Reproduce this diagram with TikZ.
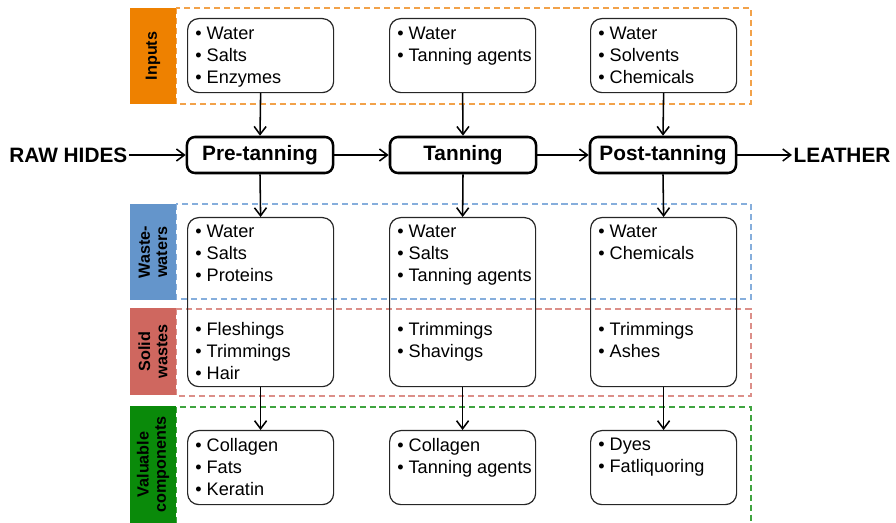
\documentclass[tikz,border=0pt]{standalone}
\usepackage{fontspec}
\setmainfont{Liberation Sans}
\usetikzlibrary{arrows.meta,positioning}
\definecolor{inorange}{HTML}{EE8100}
\definecolor{inorangeL}{HTML}{F2A24A}
\definecolor{wwblue}{HTML}{6495CB}
\definecolor{wwblueL}{HTML}{86AEDC}
\definecolor{swred}{HTML}{CF675F}
\definecolor{swredL}{HTML}{DC8F89}
\definecolor{vcgreen}{HTML}{0A8A0A}
\definecolor{vcgreenL}{HTML}{3FA43F}

\begin{document}
\begin{tikzpicture}[x=0.025cm, y=-0.025cm,
  listbox/.style={rectangle, rounded corners=0.28cm, draw=black!85, line width=0.85pt,
                  minimum width=3.65cm, inner sep=0pt, anchor=north west},
  items/.style={anchor=north west, inner sep=0pt, align=left,
                font=\fontsize{12.9}{15.65}\selectfont},
  stage/.style={rectangle, rounded corners=0.2cm, draw, line width=1.8pt,
                minimum width=3.65cm, minimum height=0.9cm,
                font=\fontsize{14.8}{16}\selectfont\bfseries},
  ends/.style={inner sep=1pt, font=\fontsize{14.8}{16}\selectfont\bfseries},
  tab/.style={rectangle, rotate=90, inner sep=0pt, minimum height=1.15cm, align=center,
              font=\fontsize{11.5}{12.3}\selectfont\bfseries},
  zone/.style={line width=1pt, dash pattern=on 4.3pt off 2.8pt},
  flow/.style={-{Straight Barb[length=2mm,width=3mm]}, line width=1.1pt},
]
  \useasboundingbox (0,0) rectangle (896,523);

  % dashed zones
  \draw[zone, inorangeL] (176,8) rectangle (751,104);
  \draw[zone, wwblueL] (176,204) rectangle (751,299);
  \draw[zone, swredL] (176,309) rectangle (751,396);
  \draw[zone, vcgreenL] (176,523) -- (176,407) -- (751,407) -- (751,523);

  % tabs
  \node[tab, fill=inorange, minimum width=2.4cm] (tabin) at (153,56) {Inputs};
  \node[tab, fill=wwblue, minimum width=2.4cm] (tabww) at (153,252) {Waste-\\waters};
  \node[tab, fill=swred, minimum width=2.175cm] (tabsw) at (153,351.5) {Solid\\wastes};
  \node[tab, fill=vcgreen, minimum width=2.925cm] (tabvc) at (153,464.5) {Valuable\\components};

  % input boxes
  \node[listbox, minimum height=1.85cm] (in1) at (187,18) {};
  \node[listbox, minimum height=1.85cm] (in2) at (389,18) {};
  \node[listbox, minimum height=1.85cm] (in3) at (590,18) {};
  \node[items] (in1t) at (195,27) {• Water\\• Salts\\• Enzymes};
  \node[items] (in2t) at (397,27) {• Water\\• Tanning agents};
  \node[items] (in3t) at (598,27) {• Water\\• Solvents\\• Chemicals};

  % process line
  \node[stage] (pre) at (260,155) {Pre-tanning};
  \node[stage] (tan) at (463,155) {Tanning};
  \node[stage] (post) at (663,155) {Post-tanning};
  \node[ends, anchor=east] (raw) at (129,155) {RAW HIDES};
  \node[ends, anchor=west] (leather) at (792,155) {LEATHER};

  % waste boxes
  \node[listbox, minimum height=4.225cm] (out1) at (187,217) {};
  \node[listbox, minimum height=4.225cm] (out2) at (389,217) {};
  \node[listbox, minimum height=4.225cm] (out3) at (590,217) {};
  \node[items] (ww1t) at (195,225) {• Water\\• Salts\\• Proteins};
  \node[items] (ww2t) at (397,225) {• Water\\• Salts\\• Tanning agents};
  \node[items] (ww3t) at (598,225) {• Water\\• Chemicals};
  \node[items] (sw1t) at (195,322) {• Fleshings\\• Trimmings\\• Hair};
  \node[items] (sw2t) at (397,322) {• Trimmings\\• Shavings};
  \node[items] (sw3t) at (598,322) {• Trimmings\\• Ashes};

  % valuable components
  \node[listbox, minimum height=1.85cm] (val1) at (187,430) {};
  \node[listbox, minimum height=1.85cm] (val2) at (389,430) {};
  \node[listbox, minimum height=1.85cm] (val3) at (590,430) {};
  \node[items] (vc1t) at (195,438) {• Collagen\\• Fats\\• Keratin};
  \node[items] (vc2t) at (397,438) {• Collagen\\• Tanning agents};
  \node[items] (vc3t) at (598,438) {• Dyes\\• Fatliquoring};

  % connectors
  \draw[flow] (raw) -- (pre);
  \draw[flow] (pre) -- (tan);
  \draw[flow] (tan) -- (post);
  \draw[flow] (post) -- (leather);
  \foreach \i/\s in {1/pre, 2/tan, 3/post} {
    \draw[flow] (in\i.south) -- (\s.north);
    \draw[flow] (\s.south) -- (out\i.north);
    \draw[flow] (out\i.south) -- (val\i.north);
  }
\end{tikzpicture}
\end{document}
